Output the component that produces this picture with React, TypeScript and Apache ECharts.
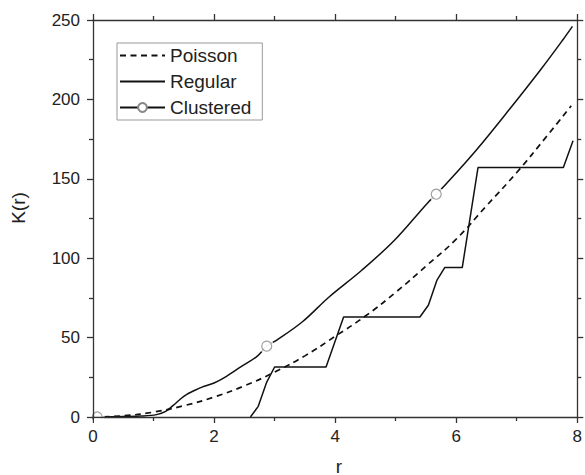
import React, { useEffect, useRef } from "react";
import * as echarts from "echarts";

// Poisson (dashed)
const poissonR = [0, 0.5, 1, 1.5, 2, 2.5, 3, 3.5, 4, 4.5, 5, 5.5, 6, 6.5, 7, 7.5, 7.9];
const poissonK = [0, 0.8, 3.1, 7.1, 12.6, 19.6, 28.3, 38.5, 50.8, 63.6, 78.5, 95, 112, 133, 154, 177, 196];

// Regular (step-like solid)
const regularR = [2.6, 2.73, 2.87, 3.0, 3.85, 4.14, 5.4, 5.54, 5.68, 5.81, 6.1, 6.36, 7.77, 7.93];
const regularK = [0, 6.7, 22, 31.5, 31.5, 63, 63, 70.4, 86, 94.1, 94.1, 157.1, 157.1, 174];

// Clustered (solid with open circle markers)
const clusteredR = [0.07, 0.5, 0.8, 1.05, 1.2, 1.33, 1.45, 1.55, 1.65, 1.8, 2.0, 2.17, 2.44, 2.71, 2.87, 3.03, 3.46, 3.9, 4.44, 4.98, 5.52, 5.67, 5.84, 6.33, 6.87, 7.41, 7.76, 7.92];
const clusteredK = [0, 0.3, 0.6, 1.5, 3.5, 7.5, 11.5, 14.3, 16.2, 18.8, 21.4, 24.8, 31.5, 38.2, 44.6, 48.3, 60, 75.6, 92.4, 111.3, 134.5, 140.3, 147, 168, 193.3, 219.5, 237.4, 246];
const clusteredMarkerIndex = [0, 14, 21];

// Axes
const xTicks = { min: 0, max: 8, interval: 2 };
const yTicks = { min: 0, max: 250, interval: 50 };
const xTitle = "r";
const yTitle = "K(r)";
const seriesNames = ["Poisson", "Regular", "Clustered"];

const FONT = "'Liberation Sans', Arial, sans-serif";
const AXIS_COLOR = "#333";

const zip = (a: number[], b: number[]) => a.map((v, i) => [v, b[i]]);

export default function App() {
  const ref = useRef<HTMLDivElement>(null);
  useEffect(() => {
    if (!ref.current) return;
    const chart = echarts.init(ref.current, undefined, { renderer: "svg" });
    const lineStyle = { color: AXIS_COLOR, width: 1.3 };
    const baseX = {
      type: "value",
      min: xTicks.min,
      max: xTicks.max,
      interval: xTicks.interval,
      z: 10,
      axisLine: { show: true, onZero: false, lineStyle },
      axisTick: { show: true, length: 6, lineStyle },
      minorTick: { show: true, splitNumber: 2, length: 4, lineStyle },
      splitLine: { show: false },
      minorSplitLine: { show: false },
    };
    const baseY = {
      type: "value",
      min: yTicks.min,
      max: yTicks.max,
      interval: yTicks.interval,
      z: 10,
      axisLine: { show: true, onZero: false, lineStyle },
      axisTick: { show: true, length: 6, lineStyle },
      minorTick: { show: true, splitNumber: 2, length: 4, lineStyle },
      splitLine: { show: false },
      minorSplitLine: { show: false },
    };
    const markers = clusteredMarkerIndex.map((i) => [clusteredR[i], clusteredK[i]]);
    const option = {
      animation: false,
      grid: { left: 93, right: 1, top: 20, bottom: 58, containLabel: false },
      xAxis: [
        {
          ...baseX,
          position: "bottom",
          axisLabel: { show: true, fontSize: 17, color: "#222", margin: 11, fontFamily: FONT },
        },
        { ...baseX, position: "top", axisLabel: { show: false } },
      ],
      yAxis: [
        {
          ...baseY,
          position: "left",
          axisLabel: { show: true, fontSize: 17, color: "#222", margin: 13, fontFamily: FONT },
        },
        { ...baseY, position: "right", axisLabel: { show: false } },
      ],
      legend: {
        show: true,
        orient: "vertical",
        left: 117,
        top: 43,
        data: [
          { name: seriesNames[0], itemStyle: { opacity: 0 } },
          { name: seriesNames[1], itemStyle: { opacity: 0 } },
          { name: seriesNames[2] },
        ],
        borderColor: "#999",
        borderWidth: 1,
        padding: [3, 11, 3, 2],
        itemWidth: 45,
        itemHeight: 11,
        itemGap: 7,
        textStyle: { fontSize: 19, color: "#222", fontFamily: FONT },
      },
      graphic: [
        {
          type: "rect",
          z: 100,
          shape: { x: 94, y: 418.5, width: 10, height: 6 },
          style: { fill: "#fff" },
        },
        {
          type: "text",
          z: 100,
          x: 339,
          y: 466,
          style: { text: xTitle, fontSize: 19, fill: "#222", fontFamily: FONT, align: "center", verticalAlign: "middle" },
        },
        {
          type: "text",
          z: 100,
          x: 18,
          y: 208,
          rotation: Math.PI / 2,
          style: { text: yTitle, fontSize: 19, fill: "#222", fontFamily: FONT, align: "center", verticalAlign: "middle" },
        },
      ],
      series: [
        {
          name: seriesNames[0],
          type: "line",
          data: zip(poissonR, poissonK),
          smooth: true,
          showSymbol: false,
          symbol: "none",
          lineStyle: { color: "#111", width: 1.7, type: [6, 4.5] },
          itemStyle: { color: "#111", opacity: 0 },
          z: 2,
        },
        {
          name: seriesNames[1],
          type: "line",
          data: zip(regularR, regularK),
          showSymbol: false,
          symbol: "none",
          lineStyle: { color: "#111", width: 1.5 },
          itemStyle: { color: "#111", opacity: 0 },
          z: 2,
        },
        {
          name: seriesNames[2],
          type: "line",
          data: zip(clusteredR, clusteredK),
          smooth: 0.35,
          showSymbol: false,
          symbol: "circle",
          symbolSize: 10,
          lineStyle: { color: "#111", width: 1.5 },
          itemStyle: { color: "#fff", borderColor: "#888", borderWidth: 1.1 },
          z: 2,
        },
        {
          name: "clusteredGap",
          type: "scatter",
          data: markers,
          symbol: "circle",
          symbolSize: 15,
          itemStyle: { color: "#fff" },
          silent: true,
          z: 3,
        },
        {
          name: "clusteredMarkers",
          type: "scatter",
          data: markers,
          symbol: "circle",
          symbolSize: 10,
          itemStyle: { color: "#fff", borderColor: "#888", borderWidth: 1.2 },
          silent: true,
          z: 4,
        },
      ],
    };
    chart.setOption(option as any);
    return () => chart.dispose();
  }, []);
  return (
    <div
      ref={ref}
      style={{ position: "fixed", left: 0, top: 0, width: 585, height: 475, background: "#fff" }}
    />
  );
}
